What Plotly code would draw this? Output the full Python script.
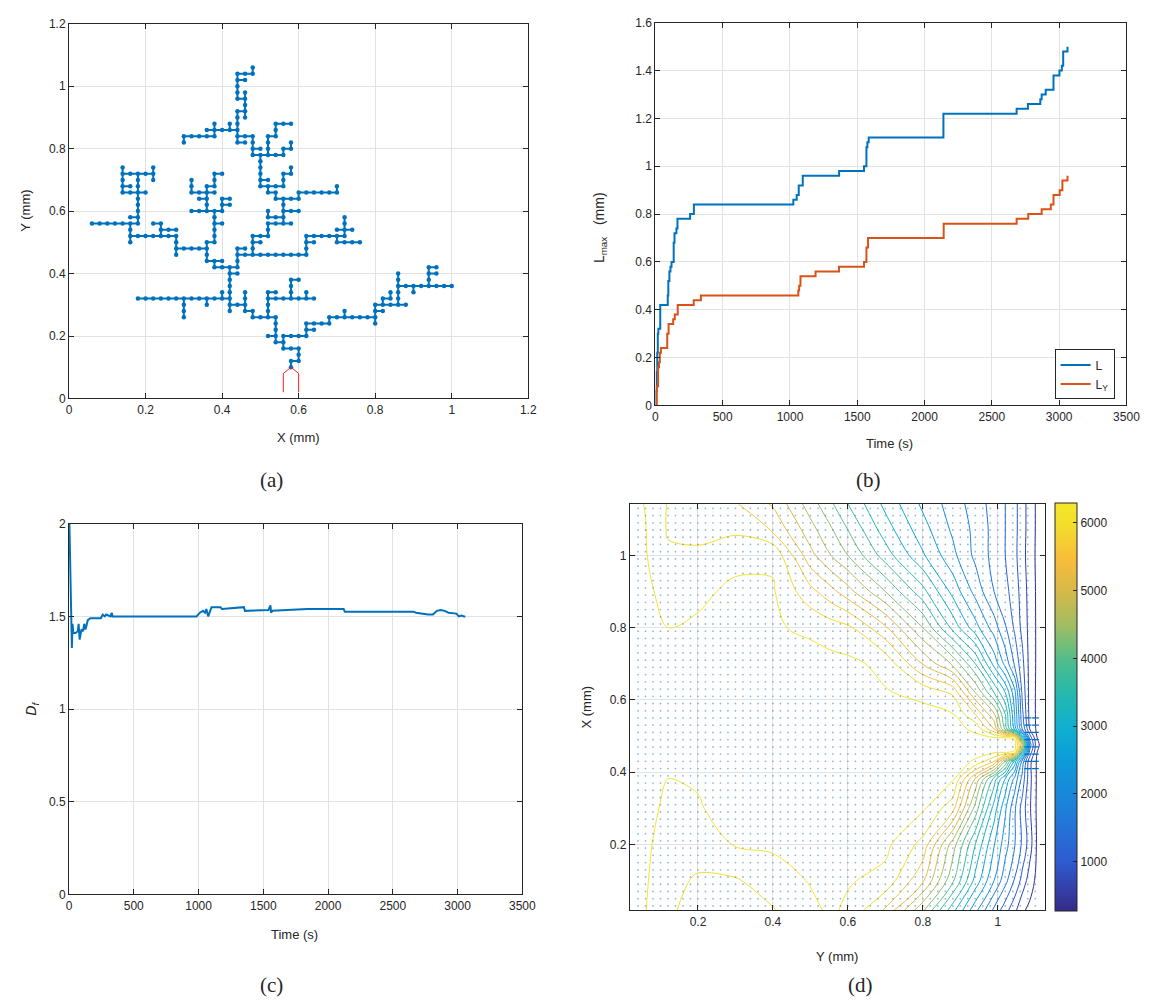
import numpy as np
import plotly.graph_objects as go

W, H = 1171, 1007

# ---------------------------------------------------------------- (a) tree
LATTICE_MM = 0.02  # lattice spacing of the discharge tree, mm
TREE_BRANCHES = [
    [(29, 5), (29, 6), (30, 6), (30, 7), (30, 8), (29, 8), (28, 8), (28, 9), (27, 9), (27, 10), (27, 11),
     (27, 12), (27, 13), (26, 13), (25, 13), (24, 13), (24, 14), (23, 14), (23, 15), (22, 15), (21, 15),
     (21, 16), (21, 17), (21, 18), (21, 19), (21, 20), (21, 21), (22, 21), (22, 22), (22, 23), (23, 23),
     (24, 23), (24, 24), (24, 25), (24, 26), (25, 26), (26, 26), (26, 27), (26, 28), (27, 28), (28, 28),
     (28, 29), (28, 30), (28, 31), (28, 32), (27, 32), (27, 33), (26, 33), (26, 34), (25, 34), (25, 35),
     (25, 36), (25, 37), (25, 38), (25, 39), (24, 39), (24, 40), (24, 41), (24, 42), (23, 42), (22, 42),
     (22, 43), (22, 44), (22, 45), (22, 46), (23, 46), (23, 47), (23, 48), (22, 48), (22, 49), (22, 50),
     (22, 51), (22, 52), (23, 52), (24, 52), (24, 53)],
    [(28, 9), (28, 10), (29, 10), (30, 10), (31, 10), (31, 11), (31, 12), (32, 12), (33, 12), (34, 12),
     (34, 13), (35, 13), (36, 13), (37, 13), (38, 13), (39, 13), (40, 13), (40, 14), (40, 15), (41, 15),
     (42, 15), (43, 15), (43, 16), (43, 17), (43, 18), (44, 18), (45, 18), (46, 18), (47, 18), (48, 18),
     (49, 18), (50, 18)],
    [(27, 10), (26, 10)],
    [(31, 11), (32, 11)],
    [(36, 13), (36, 14)],
    [(40, 13), (40, 12)],
    [(40, 14), (41, 14)],
    [(43, 15), (44, 15)],
    [(41, 15), (41, 16), (42, 16), (42, 17)],
    [(43, 18), (43, 19), (43, 20)],
    [(45, 18), (45, 17)],
    [(47, 18), (47, 19), (47, 20), (47, 21), (48, 21)],
    [(47, 20), (48, 20)],
    [(26, 13), (26, 14), (26, 15), (26, 16), (27, 16), (28, 16), (29, 16), (30, 16), (31, 16), (32, 16)],
    [(26, 16), (26, 17), (27, 17)],
    [(29, 16), (29, 17), (29, 18), (29, 19), (30, 19)],
    [(31, 16), (31, 17)],
    [(21, 16), (20, 16), (19, 16), (18, 16), (17, 16), (16, 16), (15, 16), (14, 16), (13, 16), (12, 16),
     (11, 16), (10, 16), (9, 16)],
    [(15, 16), (15, 15), (15, 14), (15, 13)],
    [(18, 16), (18, 15)],
    [(20, 16), (20, 17)],
    [(21, 15), (21, 14)],
    [(23, 15), (23, 16), (23, 17)],
    [(21, 20), (22, 20)],
    [(21, 21), (20, 21), (19, 21), (19, 22), (18, 22), (18, 23), (18, 24), (17, 24), (16, 24), (15, 24),
     (14, 24), (14, 25), (14, 26), (13, 26), (12, 26), (11, 26), (10, 26), (9, 26), (8, 26), (8, 25)],
    [(19, 22), (20, 22)],
    [(14, 24), (14, 23)],
    [(8, 26), (8, 27), (8, 28), (7, 28), (6, 28), (5, 28), (4, 28), (3, 28)],
    [(8, 28), (9, 28), (9, 29), (9, 30), (9, 31), (9, 32), (9, 33), (9, 34), (9, 35), (9, 36)],
    [(8, 29), (9, 29)],
    [(12, 26), (12, 27), (12, 28), (11, 28)],
    [(12, 27), (13, 27), (14, 27)],
    [(9, 36), (8, 36), (7, 36), (7, 37)],
    [(9, 36), (10, 36), (11, 36), (11, 37)],
    [(11, 36), (11, 35)],
    [(7, 36), (7, 35), (7, 34), (7, 33), (8, 33), (9, 33), (10, 33)],
    [(7, 34), (8, 34)],
    [(18, 24), (18, 25), (19, 25), (19, 26), (19, 27), (19, 28), (19, 29), (19, 30), (18, 30), (17, 30),
     (16, 30)],
    [(19, 28), (20, 28)],
    [(19, 30), (20, 30), (20, 31), (20, 32), (21, 32)],
    [(20, 31), (21, 31)],
    [(18, 30), (18, 31), (18, 32), (17, 32)],
    [(18, 32), (18, 33), (17, 33), (16, 33), (16, 34), (16, 35)],
    [(18, 33), (18, 34), (19, 34), (19, 35), (19, 36), (20, 36)],
    [(18, 33), (19, 33)],
    [(22, 23), (22, 24), (23, 24)],
    [(24, 25), (25, 25)],
    [(24, 23), (25, 23), (26, 23), (27, 23), (28, 23), (29, 23), (30, 23), (31, 23), (31, 24), (31, 25),
     (31, 26), (32, 26), (33, 26), (34, 26), (35, 26), (36, 26), (36, 27), (36, 28), (36, 29)],
    [(31, 25), (32, 25)],
    [(35, 26), (35, 25), (36, 25), (37, 25), (38, 25)],
    [(35, 27), (36, 27), (37, 27)],
    [(28, 28), (29, 28)],
    [(28, 29), (27, 29), (26, 29), (26, 30)],
    [(28, 30), (29, 30), (30, 30)],
    [(28, 32), (29, 32), (30, 32), (30, 33), (31, 33), (32, 33), (33, 33), (34, 33), (35, 33), (35, 34)],
    [(26, 34), (27, 34), (28, 34), (28, 35), (28, 36), (29, 36), (29, 37)],
    [(25, 35), (26, 35)],
    [(25, 39), (26, 39), (27, 39), (28, 39), (28, 40), (29, 40), (29, 41)],
    [(24, 40), (25, 40)],
    [(26, 39), (26, 40), (26, 41), (26, 42), (27, 42), (27, 43), (27, 44), (28, 44), (29, 44)],
    [(22, 43), (21, 43), (20, 43), (19, 43), (18, 43)],
    [(21, 43), (21, 44)],
    [(19, 43), (19, 44)],
    [(19, 43), (19, 42), (18, 42), (17, 42), (16, 42), (15, 42), (15, 41)],
    [(22, 42), (22, 41), (23, 41)],
    [(23, 46), (23, 45)],
    [(23, 48), (23, 49)],
    [(22, 51), (23, 51)],
]
ELECTRODE_X = [0.56, 0.56, 0.58, 0.60, 0.60]
ELECTRODE_Y = [0.02, 0.08, 0.10, 0.08, 0.02]

# ---------------------------------------------------------------- (b) max length
L_TIME = [0, 6, 10, 14, 18, 22, 36, 92, 96, 104, 112, 120, 136, 142, 156, 164, 258, 286, 1025, 1050,
          1065, 1095, 1365, 1550, 1568, 1575, 1585, 2140, 2684, 2768, 2860, 2870, 2900, 2958, 3002,
          3020, 3030, 3062]
L_VALUE = [0, 0.06, 0.14, 0.22, 0.30, 0.32, 0.42, 0.46, 0.52, 0.56, 0.58, 0.60, 0.68, 0.72, 0.74,
           0.78, 0.80, 0.84, 0.86, 0.88, 0.92, 0.96, 0.98, 1.00, 1.08, 1.10, 1.12, 1.22, 1.24, 1.26,
           1.28, 1.30, 1.32, 1.38, 1.40, 1.42, 1.48, 1.50]
LY_TIME = [0, 10, 20, 27, 33, 41, 88, 98, 132, 144, 166, 285, 338, 1062, 1068, 1078, 1190, 1364,
           1550, 1568, 1580, 2142, 2684, 2770, 2870, 2938, 2958, 3004, 3024, 3062]
LY_VALUE = [0, 0.08, 0.16, 0.18, 0.22, 0.24, 0.30, 0.34, 0.36, 0.38, 0.42, 0.44, 0.46, 0.48, 0.50,
            0.54, 0.56, 0.58, 0.60, 0.66, 0.70, 0.76, 0.78, 0.80, 0.82, 0.84, 0.88, 0.90, 0.94, 0.96]

# ---------------------------------------------------------------- (c) fractal dimension
DF_TIME = [3, 8, 13, 17, 22, 27, 33, 50, 68, 74, 82, 96, 109, 117, 128, 145, 165, 246, 260, 276, 287,
           320, 330, 336, 600, 985, 1010, 1035, 1050, 1060, 1075, 1085, 1100, 1170, 1180, 1350, 1358,
           1540, 1555, 1560, 1570, 1840, 2120, 2130, 2660, 2680, 2770, 2810, 2840, 2870, 2900, 2930,
           2990, 3010, 3030, 3050, 3060]
DF_VALUE = [2.00, 1.80, 1.60, 1.45, 1.33, 1.46, 1.41, 1.41, 1.42, 1.46, 1.375, 1.43, 1.42, 1.46, 1.43,
            1.48, 1.49, 1.49, 1.51, 1.50, 1.51, 1.50, 1.52, 1.50, 1.50, 1.50, 1.52, 1.53, 1.52, 1.54,
            1.50, 1.52, 1.55, 1.55, 1.54, 1.55, 1.53, 1.535, 1.56, 1.52, 1.53, 1.54, 1.54, 1.525,
            1.525, 1.52, 1.51, 1.51, 1.53, 1.535, 1.53, 1.52, 1.515, 1.50, 1.505, 1.50, 1.50]

# ---------------------------------------------------------------- (d) potential field
FIELD_Y = [0.018, 0.06, 0.12, 0.2, 0.3, 0.4, 0.5, 0.555, 0.6, 0.7, 0.8, 0.88, 0.94, 0.99, 1.02,
           1.045, 1.065, 1.085, 1.105, 1.125]
FIELD_X = [0.018, 0.1, 0.2, 0.3, 0.38, 0.43, 0.455, 0.475, 0.495, 0.52, 0.56, 0.62, 0.7, 0.8, 0.9,
           1.0, 1.07, 1.142]
FIELD_V = [
    [6200, 6110, 5830, 5730, 5720, 5780, 6030, 6150, 6040, 5460, 4350, 3200, 2290, 1530, 1120, 780, 450, 330, 290, 270],
    [6210, 6130, 5900, 5760, 5770, 5950, 6120, 6170, 6130, 6000, 5250, 4050, 3000, 2200, 1700, 1270, 900, 550, 320, 270],
    [6220, 6150, 5980, 5950, 6120, 6150, 6200, 6210, 6200, 6180, 5700, 4450, 3400, 2520, 2030, 1620, 1250, 850, 350, 270],
    [6230, 6160, 6060, 6080, 6200, 6220, 6230, 6230, 6220, 6200, 6150, 5600, 4180, 2970, 2250, 1650, 1180, 750, 340, 270],
    [6240, 6200, 6095, 6120, 6230, 6250, 6250, 6250, 6240, 6220, 6170, 6130, 4850, 3550, 2750, 2100, 1500, 800, 350, 270],
    [6250, 6230, 6220, 6230, 6260, 6270, 6270, 6270, 6260, 6240, 6200, 6180, 6080, 5500, 4300, 3000, 1800, 800, 350, 270],
    [6260, 6240, 6230, 6240, 6270, 6280, 6280, 6280, 6270, 6250, 6230, 6200, 6150, 6130, 6120, 6050, 3500, 1200, 400, 270],
    [6260, 6240, 6230, 6240, 6270, 6280, 6290, 6290, 6280, 6260, 6240, 6220, 6200, 6200, 6200, 6250, 5000, 1500, 450, 270],
    [6260, 6240, 6230, 6240, 6270, 6280, 6280, 6280, 6270, 6250, 6230, 6200, 6160, 6130, 6120, 6050, 3500, 1200, 400, 270],
    [6250, 6230, 6220, 6230, 6260, 6270, 6270, 6270, 6260, 6240, 6220, 6180, 6050, 5200, 3900, 2700, 1600, 700, 330, 270],
    [6250, 6230, 6220, 6230, 6250, 6260, 6260, 6260, 6250, 6230, 6180, 6120, 5500, 4650, 3700, 2500, 1400, 600, 340, 270],
    [6240, 6220, 6210, 6220, 6240, 6250, 6240, 6230, 6220, 6120, 6030, 5750, 4600, 3700, 3100, 2300, 1250, 600, 340, 270],
    [6240, 6210, 6190, 6210, 6240, 6230, 6200, 6190, 6170, 6020, 5180, 4540, 3700, 2700, 2100, 1550, 1100, 600, 350, 270],
    [6240, 6180, 6100, 6150, 6220, 6130, 6050, 5950, 5870, 5250, 4300, 3300, 2620, 2050, 1630, 1250, 920, 600, 350, 270],
    [6230, 6150, 6020, 6030, 6170, 6130, 5600, 5300, 5020, 4300, 3500, 2700, 2100, 1600, 1390, 1150, 880, 580, 350, 270],
    [6210, 6120, 5850, 5820, 6000, 6050, 5000, 4600, 4300, 3550, 2840, 2280, 1830, 1500, 1300, 1080, 820, 550, 340, 270],
    [6200, 6110, 5770, 5770, 5745, 5470, 4720, 4340, 4000, 3250, 2620, 2150, 1820, 1500, 1300, 1080, 850, 550, 350, 275],
    [6180, 6090, 5780, 5770, 5530, 5160, 4450, 4050, 3700, 3020, 2440, 2060, 1760, 1480, 1300, 1080, 850, 550, 350, 270],
]
CONTOUR_START, CONTOUR_END, CONTOUR_STEP = 400, 6100, 300
COLORBAR_TICKS = [1000, 2000, 3000, 4000, 5000, 6000]
QUIVER_STEP = 0.02

PARULA = [
    [0.00, '#352A87'], [0.12, '#2F5BD0'], [0.25, '#1E7FDA'], [0.37, '#0D9CD8'],
    [0.45, '#10AFD0'], [0.53, '#25B8AE'], [0.61, '#4DBD8D'], [0.70, '#A0BD62'],
    [0.78, '#D3B94A'], [0.86, '#F8BC3B'], [0.95, '#F2DF2A'], [1.00, '#F5E62A'],
]

BLUE = '#0072BD'
ORANGE = '#D95319'
INK = '#262626'
SANS = 'Liberation Sans, Arial, sans-serif'
SERIF = 'Liberation Serif, Times New Roman, serif'


def dom_x(p0, p1):
    return [p0 / W, p1 / W]


def dom_y(p_top, p_bottom):
    return [1 - p_bottom / H, 1 - p_top / H]


fig = go.Figure()

# (a) tree: segments plus lattice nodes
seg_x, seg_y, nodes = [], [], []
for branch in TREE_BRANCHES:
    for gx, gy in branch:
        seg_x.append(gx * LATTICE_MM)
        seg_y.append(gy * LATTICE_MM)
        nodes.append((gx, gy))
    seg_x.append(None)
    seg_y.append(None)
nodes = sorted(set(nodes))
fig.add_trace(go.Scatter(x=seg_x, y=seg_y, mode='lines', line=dict(color=BLUE, width=2),
                         hoverinfo='skip', showlegend=False, xaxis='x', yaxis='y'))
fig.add_trace(go.Scatter(x=[n[0] * LATTICE_MM for n in nodes], y=[n[1] * LATTICE_MM for n in nodes],
                         mode='markers', marker=dict(color=BLUE, size=4.5),
                         showlegend=False, xaxis='x', yaxis='y'))
fig.add_trace(go.Scatter(x=ELECTRODE_X, y=ELECTRODE_Y, mode='lines', line=dict(color='#FF2020', width=1),
                         showlegend=False, xaxis='x', yaxis='y'))

# (b) step curves
fig.add_trace(go.Scatter(x=L_TIME, y=L_VALUE, mode='lines', line=dict(color=BLUE, width=2, shape='hv'),
                         name='L', xaxis='x2', yaxis='y2'))
fig.add_trace(go.Scatter(x=LY_TIME, y=LY_VALUE, mode='lines', line=dict(color=ORANGE, width=2, shape='hv'),
                         name='L<sub>Y</sub>', xaxis='x2', yaxis='y2'))

# (c) fractal dimension
fig.add_trace(go.Scatter(x=DF_TIME, y=DF_VALUE, mode='lines', line=dict(color=BLUE, width=2),
                         showlegend=False, xaxis='x3', yaxis='y3'))

# (d) field: quiver-grid dots, contour lines and a colour bar
vmin = float(np.min(FIELD_V))
vmax = float(np.max(FIELD_V))
qy = np.round(np.arange(0.04, 1.10 + 1e-9, QUIVER_STEP), 3)
qx = np.round(np.arange(0.03, 1.13 + 1e-9, QUIVER_STEP), 3)
QY, QX = np.meshgrid(qy, qx)
fig.add_trace(go.Scatter(x=QY.ravel(), y=QX.ravel(), mode='markers',
                         marker=dict(color='rgba(40,130,205,0.55)', size=1.8),
                         hoverinfo='skip', showlegend=False, xaxis='x4', yaxis='y4'))
near_gap = (QY >= 1.08) & (np.abs(QX - 0.475) <= 0.08)
fig.add_trace(go.Scatter(x=QY[near_gap], y=QX[near_gap], mode='markers',
                         marker=dict(symbol='line-ew', size=5, line=dict(color=BLUE, width=1.2)),
                         hoverinfo='skip', showlegend=False, xaxis='x4', yaxis='y4'))
fig.add_trace(go.Contour(x=FIELD_Y, y=FIELD_X, z=FIELD_V, autocontour=False,
                         contours=dict(coloring='lines', start=CONTOUR_START, end=CONTOUR_END,
                                       size=CONTOUR_STEP),
                         line=dict(width=1, smoothing=1.0), colorscale=PARULA, zmin=vmin, zmax=vmax,
                         showscale=False, hoverinfo='skip', xaxis='x4', yaxis='y4'))
fig.add_trace(go.Scatter(x=[FIELD_Y[0]], y=[FIELD_X[0]], mode='markers',
                         marker=dict(size=1, opacity=0, color=[vmin], cmin=vmin, cmax=vmax,
                                     colorscale=PARULA, showscale=True,
                                     colorbar=dict(x=1067 / W, xanchor='left', y=1 - 710 / H,
                                                   yanchor='middle', len=414 / H, lenmode='fraction',
                                                   thickness=22, thicknessmode='pixels', outlinewidth=1,
                                                   outlinecolor=INK, tickvals=COLORBAR_TICKS,
                                                   ticks='inside', ticklen=4, tickcolor=INK,
                                                   tickfont=dict(family=SANS, size=12, color=INK),
                                                   xpad=0, ypad=0)),
                         hoverinfo='skip', showlegend=False, xaxis='x4', yaxis='y4'))

axis_style = dict(showline=True, linecolor=INK, linewidth=1, mirror='ticks', ticks='inside', ticklen=5,
                  tickcolor=INK, showgrid=True, gridcolor='#e2e2e2', gridwidth=1, zeroline=False,
                  tickfont=dict(family=SANS, size=12, color=INK))

fig.update_layout(
    width=W, height=H, margin=dict(l=0, r=0, t=0, b=0),
    paper_bgcolor='white', plot_bgcolor='white',
    xaxis=dict(domain=dom_x(67, 533), anchor='y', range=[0, 1.2], dtick=0.2, **axis_style),
    yaxis=dict(domain=dom_y(17, 397), anchor='x', range=[0, 1.2], dtick=0.2, **axis_style),
    xaxis2=dict(domain=dom_x(662, 1140), anchor='y2', range=[0, 3500], dtick=500, **axis_style),
    yaxis2=dict(domain=dom_y(16, 404), anchor='x2', range=[0, 1.6], dtick=0.2, **axis_style),
    xaxis3=dict(domain=dom_x(67, 527), anchor='y3', range=[0, 3500], dtick=500, **axis_style),
    yaxis3=dict(domain=dom_y(524, 900), anchor='x3', range=[0, 2], dtick=0.5, **axis_style),
    xaxis4=dict(domain=dom_x(636, 1057), anchor='y4', range=[FIELD_Y[0], FIELD_Y[-1]],
                tickvals=[0.2, 0.4, 0.6, 0.8, 1.0], **axis_style),
    yaxis4=dict(domain=dom_y(504, 916), anchor='x4', range=[FIELD_X[0], FIELD_X[-1]],
                tickvals=[0.2, 0.4, 0.6, 0.8, 1.0], **axis_style),
    legend=dict(x=1128 / W, y=1 - 398 / H, xanchor='right', yanchor='bottom', bgcolor='white',
                bordercolor=INK, borderwidth=1, font=dict(family=SANS, size=12, color=INK),
                itemwidth=30, tracegroupgap=4),
)


def label(text, px, py, size=13, family=SANS, angle=0):
    return dict(text=text, x=px / W, y=1 - py / H, xref='paper', yref='paper', showarrow=False,
                xanchor='center', yanchor='middle', textangle=angle,
                font=dict(family=family, size=size, color=INK))


fig.update_layout(annotations=[
    label('X (mm)', 300, 437), label('Y (mm)', 22, 207, angle=-90),
    label('Time (s)', 900, 443), label('L<sub>max</sub>   (mm)', 606, 224, size=14, angle=-90),
    label('Time (s)', 296, 941), label('<i>D</i><sub><i>f</i></sub>', 30, 712, size=14, angle=-90),
    label('Y (mm)', 846, 963), label('X (mm)', 592, 710, angle=-90),
    label('(a)', 272, 480, size=21, family=SERIF), label('(b)', 878, 480, size=21, family=SERIF),
    label('(c)', 272, 992, size=21, family=SERIF), label('(d)', 870, 992, size=21, family=SERIF),
])

fig.write_html('out.html')
